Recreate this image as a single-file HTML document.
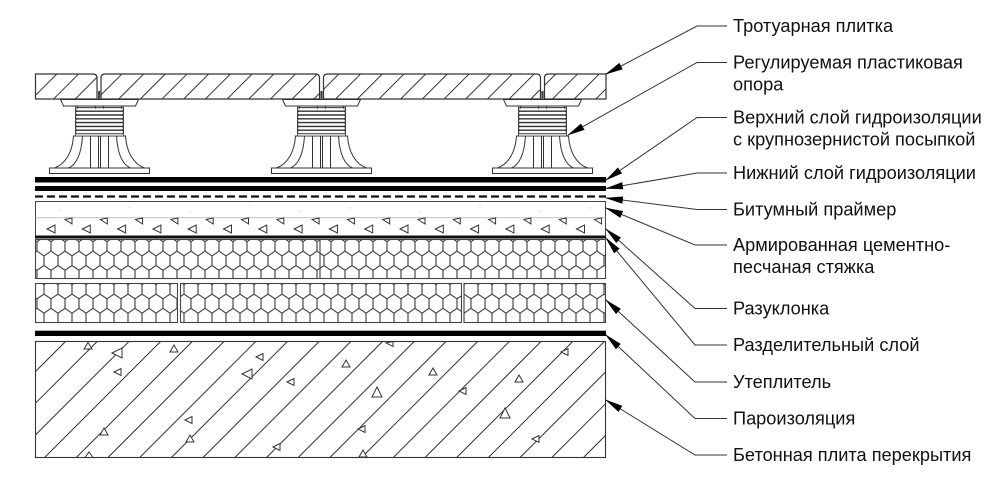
<!DOCTYPE html>
<html><head><meta charset="utf-8"><style>
html,body{margin:0;padding:0;background:#fff;}
svg{display:block;}
text{font-family:"Liberation Sans",Arial,sans-serif;font-size:18.2px;fill:#111;}
</style></head><body>
<svg width="1000" height="489" viewBox="0 0 1000 489" xmlns="http://www.w3.org/2000/svg">
<defs>
<pattern id="th" patternUnits="userSpaceOnUse" width="15.34" height="20" patternTransform="rotate(45)">
<line x1="0.5" y1="-5" x2="0.5" y2="25" stroke="#333" stroke-width="1"/>
</pattern>
<pattern id="hex" patternUnits="userSpaceOnUse" x="37" y="236.9" width="14" height="28.6">
<path d="M7,0 L14,4.77 M7,0 L0,4.77 M0,4.77 V14.3 M14,4.77 V14.3 M0,14.3 L7,19.07 L14,14.3 M7,19.07 V28.6" fill="none" stroke="#3a3a3a" stroke-width="1.1"/>
</pattern>
<marker id="ah" viewBox="0 0 18 8" refX="17" refY="4" markerWidth="18" markerHeight="8" markerUnits="userSpaceOnUse" orient="auto">
<path d="M0,0.4 L18,4 L0,7.6 Z" fill="#000"/>
</marker>
<g id="ped" fill="#fff" stroke="#333" stroke-width="1">
<path d="M-26,136 C-27,152 -34,164 -45,168 H45 C34,164 27,152 26,136 Z"/>
<path d="M-17,136 C-18,152 -22,164 -31,168 M17,136 C18,152 22,164 31,168" fill="none"/>
<path d="M-9,136 V168 M-1,136 V168 M1,136 V168 M9,136 V168" fill="none"/>
<rect x="-50" y="168" width="100" height="5.5"/>
<rect x="-24" y="106" width="48" height="30" stroke-width="0.8"/>
<rect x="-24" y="107.6" width="48" height="3.4" rx="1.7"/>
<rect x="-24" y="111.4" width="48" height="3.4" rx="1.7"/>
<rect x="-24" y="115.2" width="48" height="3.4" rx="1.7"/>
<rect x="-24" y="119" width="48" height="3.4" rx="1.7"/>
<rect x="-24" y="122.8" width="48" height="3.4" rx="1.7"/>
<rect x="-24" y="126.6" width="48" height="3.4" rx="1.7"/>
<rect x="-24" y="130.4" width="48" height="3.4" rx="1.7"/>
<polygon points="-39,99.5 39,99.5 36,106 -36,106"/>
<path d="M-22,106 V108.5 M-4,106 V108.5 M4,106 V108.5 M22,106 V108.5" fill="none"/>
</g>
</defs>

<g stroke="#333" stroke-width="1.2" fill="url(#th)">
<path d="M35.5,74 H93 Q97,74 97,78 V99 H35.5 Z"/>
<path d="M101,78 Q101,74 105,74 H315.5 Q319.5,74 319.5,78 V99 H101 Z"/>
<path d="M323.5,78 Q323.5,74 327.5,74 H536.5 Q540.5,74 540.5,78 V99 H323.5 Z"/>
<path d="M544.5,78 Q544.5,74 548.5,74 H606 V99 H544.5 Z"/>
</g>
<g fill="#444">
<rect x="98" y="91" width="2.2" height="8.5"/>
<rect x="320.4" y="91" width="2.2" height="8.5"/>
<rect x="541.4" y="91" width="2.2" height="8.5"/>
</g>

<use href="#ped" transform="translate(99.5,0)"/>
<use href="#ped" transform="translate(321.5,0)"/>
<use href="#ped" transform="translate(542.5,0)"/>

<rect x="35" y="177" width="571" height="5.5" fill="#000"/>
<rect x="35" y="186" width="571" height="5" fill="#000"/>
<line x1="35" y1="196.5" x2="606" y2="196.5" stroke="#111" stroke-width="2.2" stroke-dasharray="8 4"/>

<rect x="35.5" y="201.5" width="570" height="35" fill="#fff" stroke="#444" stroke-width="1"/>
<line x1="35.5" y1="217.7" x2="605.5" y2="217.7" stroke="#bbb" stroke-width="0.8"/>
<g fill="#ccc">
<circle cx="60" cy="210" r="0.7"/><circle cx="130" cy="207" r="0.7"/><circle cx="190" cy="212" r="0.7"/><circle cx="250" cy="206" r="0.7"/><circle cx="300" cy="211" r="0.7"/><circle cx="350" cy="208" r="0.7"/><circle cx="420" cy="212" r="0.7"/><circle cx="480" cy="207" r="0.7"/><circle cx="540" cy="211" r="0.7"/><circle cx="590" cy="208" r="0.7"/>
</g>
<g fill="#fff" stroke="#333" stroke-width="1">
<polygon points="47,229 55,225 55,233"/><polygon points="82.3,229 90.3,225 90.3,233"/><polygon points="117.6,229 125.6,225 125.6,233"/><polygon points="152.9,229 160.9,225 160.9,233"/><polygon points="188.2,229 196.2,225 196.2,233"/><polygon points="223.5,229 231.5,225 231.5,233"/><polygon points="258.8,229 266.8,225 266.8,233"/><polygon points="294.1,229 302.1,225 302.1,233"/><polygon points="329.4,229 337.4,225 337.4,233"/><polygon points="364.7,229 372.7,225 372.7,233"/><polygon points="400,229 408,225 408,233"/><polygon points="435.3,229 443.3,225 443.3,233"/><polygon points="470.6,229 478.6,225 478.6,233"/><polygon points="505.9,229 513.9,225 513.9,233"/><polygon points="541.2,229 549.2,225 549.2,233"/><polygon points="576.5,229 584.5,225 584.5,233"/>
<polygon points="65,219.5 72,218 72,224"/><polygon points="100.3,219.5 107.3,218 107.3,224"/><polygon points="135.6,219.5 142.6,218 142.6,224"/><polygon points="170.9,219.5 177.9,218 177.9,224"/><polygon points="206.2,219.5 213.2,218 213.2,224"/><polygon points="241.5,219.5 248.5,218 248.5,224"/><polygon points="276.8,219.5 283.8,218 283.8,224"/><polygon points="312.1,219.5 319.1,218 319.1,224"/><polygon points="347.4,219.5 354.4,218 354.4,224"/><polygon points="382.7,219.5 389.7,218 389.7,224"/><polygon points="418,219.5 425,218 425,224"/><polygon points="453.3,219.5 460.3,218 460.3,224"/><polygon points="488.6,219.5 495.6,218 495.6,224"/><polygon points="523.9,219.5 530.9,218 530.9,224"/><polygon points="559.2,219.5 566.2,218 566.2,224"/><polygon points="594.5,219.5 601.5,218 601.5,224"/>
</g>
<rect x="35" y="235.5" width="571" height="3" fill="#111"/>

<g fill="url(#hex)" stroke="#444" stroke-width="1.1">
<rect x="35.5" y="239.5" width="570" height="39"/>
<rect x="35.5" y="283.5" width="142" height="39"/>
<rect x="180.5" y="283.5" width="281" height="39"/>
<rect x="464" y="283.5" width="141.5" height="39"/>
</g>
<line x1="320" y1="239.5" x2="320" y2="278.5" stroke="#444" stroke-width="1.1"/>

<rect x="35" y="330.7" width="571" height="5.3" fill="#000"/>

<rect x="35.5" y="341.5" width="570" height="116" fill="#fff" stroke="#333" stroke-width="1.1"/>
<path stroke="#333" stroke-width="1" fill="none" d="M35.5,371.5 L65.5,341.5 M35.5,403.2 L97.2,341.5 M35.5,434.9 L128.9,341.5 M44.6,457.5 L160.6,341.5 M76.3,457.5 L192.3,341.5 M108,457.5 L224,341.5 M139.7,457.5 L255.7,341.5 M171.4,457.5 L287.4,341.5 M203.1,457.5 L319.1,341.5 M234.8,457.5 L350.8,341.5 M266.5,457.5 L382.5,341.5 M298.2,457.5 L414.2,341.5 M329.9,457.5 L445.9,341.5 M361.6,457.5 L477.6,341.5 M393.3,457.5 L509.3,341.5 M425,457.5 L541,341.5 M456.7,457.5 L572.7,341.5 M488.4,457.5 L604.4,341.5 M520.1,457.5 L605.5,372.1 M551.8,457.5 L605.5,403.8 M583.5,457.5 L605.5,435.5"/>
<g fill="#fff" stroke="#333" stroke-width="1">
<polygon points="88,342.5 92,349 84,349"/>
<polygon points="112,353 122,348 122,358"/>
<polygon points="114,372 121,368.5 121,375.5"/>
<polygon points="174,345 178,352 170,352"/>
<polygon points="256,357 263,353.5 263,360.5"/>
<polygon points="242,374 252,369 252,379"/>
<polygon points="287,382 294,378.5 294,385.5"/>
<polygon points="185,420 192,416.5 192,423.5"/>
<polygon points="104,428 108,435 100,435"/>
<polygon points="190,435 194,442 186,442"/>
<polygon points="273,447 280,443.5 280,450.5"/>
<polygon points="89,452 93,457.5 85,457.5"/>
<polygon points="386,343 393,341.5 393,346.5"/>
<polygon points="346,360 350,367 342,367"/>
<polygon points="433,368 437,375 429,375"/>
<polygon points="377,387 382,397 372,397"/>
<polygon points="459,391 466,387.5 466,394.5"/>
<polygon points="519,375 523,382 515,382"/>
<polygon points="561,352 568,348.5 568,355.5"/>
<polygon points="505,408 510,418 500,418"/>
<polygon points="358,429 365,425.5 365,432.5"/>
<polygon points="532,439 539,435.5 539,442.5"/>
<polygon points="363,450 367,457 359,457"/>
</g>

<g stroke="#333" stroke-width="1" fill="none" marker-end="url(#ah)">
<path d="M727,26 H697 L606,74"/>
<path d="M727,62.5 H697 L568,135"/>
<path d="M727,117.5 H697 L606,180"/>
<path d="M727,173 H697 L606,188.5"/>
<path d="M727,209.5 H697 L606,198"/>
<path d="M727,245 H695 L606,208"/>
<path d="M727,308.5 H695 L606,229"/>
<path d="M727,345 H695 L606,238"/>
<path d="M727,382 H695 L606,300"/>
<path d="M727,418.5 H695 L606,335"/>
<path d="M727,455 H695 L606,400"/>
</g>

<text x="733" y="32">Тротуарная плитка</text>
<text x="733" y="68.5">Регулируемая пластиковая</text>
<text x="733" y="90.5">опора</text>
<text x="733" y="123.5">Верхний слой гидроизоляции</text>
<text x="733" y="145.5">с крупнозернистой посыпкой</text>
<text x="733" y="179">Нижний слой гидроизоляции</text>
<text x="733" y="215.5">Битумный праймер</text>
<text x="733" y="251">Армированная цементно-</text>
<text x="733" y="273">песчаная стяжка</text>
<text x="733" y="314.5">Разуклонка</text>
<text x="733" y="351">Разделительный слой</text>
<text x="733" y="388">Утеплитель</text>
<text x="733" y="424.5">Пароизоляция</text>
<text x="733" y="461">Бетонная плита перекрытия</text>
</svg>
</body></html>
